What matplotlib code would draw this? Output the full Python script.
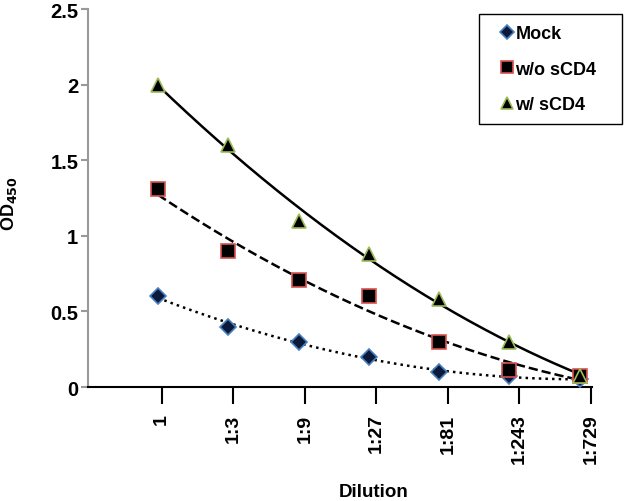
import numpy as np
import matplotlib
matplotlib.use("Agg")
import matplotlib.pyplot as plt
from matplotlib.patches import Rectangle

plt.rcParams['font.family'] = ['Liberation Sans', 'DejaVu Sans']
plt.rcParams['font.weight'] = 'bold'

dilutions = ['1', '1:3', '1:9', '1:27', '1:81', '1:243', '1:729']
mock = [0.6, 0.4, 0.3, 0.2, 0.1, 0.07, 0.05]
wo_scd4 = [1.31, 0.9, 0.71, 0.6, 0.3, 0.11, 0.07]
w_scd4 = [2.0, 1.6, 1.1, 0.88, 0.58, 0.3, 0.07]

fig = plt.figure(figsize=(6.25, 5.02), dpi=100)
ax = fig.add_axes([0.1408, 0.227, 0.806, 0.753])

xt = np.arange(len(dilutions))
# markers sit a little left of the ticks in the original
xm = xt * 0.982 - 0.05
xf = np.linspace(xm[0], xm[-1], 200)

series = [
    (mock, 'Mock', 'D', '#0b1a3a', '#4a7fc0', ':', 8),
    (wo_scd4, 'w/o sCD4', 's', 'black', '#d9534f', '--', 10),
    (w_scd4, 'w/ sCD4', '^', 'black', '#9bbb59', '-', 10),
]
for vals, lab, mk, fc, ec, ls, ms in series:
    c = np.polyfit(xm, vals, 2)
    ax.plot(xf, np.polyval(c, xf), color='black', ls=ls, lw=1.8, zorder=2)
    ax.plot(xm, vals, ls='none', marker=mk, ms=ms, mfc=fc, mec=ec, mew=1.2,
            label=lab, zorder=3)

ax.set_xlim(-1.03, 6.01)
ax.set_ylim(0, 2.5)
ax.set_xticks(xt)
ax.set_xticklabels(dilutions, rotation=90, fontsize=14, fontweight='bold',
                   va='top')
ax.set_yticks([0, 0.5, 1, 1.5, 2, 2.5])
ax.set_yticklabels(['0', '0.5', '1', '1.5', '2', '2.5'], fontsize=14.5,
                   fontweight='bold')

ax.spines['top'].set_visible(False)
ax.spines['right'].set_visible(False)
ax.spines['left'].set_color('#999999')
ax.spines['left'].set_linewidth(1.5)
ax.spines['bottom'].set_linewidth(1.5)
ax.tick_params(axis='y', colors='#999999', length=5, width=1.5,
               labelcolor='black', pad=2)
ax.tick_params(axis='x', length=12, width=1.5, pad=7)

ax.set_ylabel('OD$_{\\mathbf{450}}$', fontsize=13, fontweight='bold')
ax.yaxis.set_label_coords(-0.137, 0.487)
fig.text(0.597, 0.01, 'Dilution', ha='center', va='baseline', fontsize=13.5,
         fontweight='bold')

# legend frame with the wide right margin of the original
fig.patches.append(Rectangle((479 / 625, 1 - 125 / 502), 143 / 625, 110 / 502,
                             transform=fig.transFigure, fill=False,
                             edgecolor='black', lw=1.0))
leg = ax.legend(loc='upper left', bbox_to_anchor=(500 / 625, 1 - 26 / 502),
                bbox_transform=fig.transFigure, frameon=False, fontsize=13,
                handletextpad=0.05, handlelength=0.8, labelspacing=1.03,
                borderpad=0, borderaxespad=0, markerscale=0.85)
for t in leg.get_texts():
    t.set_fontweight('bold')

fig.savefig('out.png', dpi=100)
